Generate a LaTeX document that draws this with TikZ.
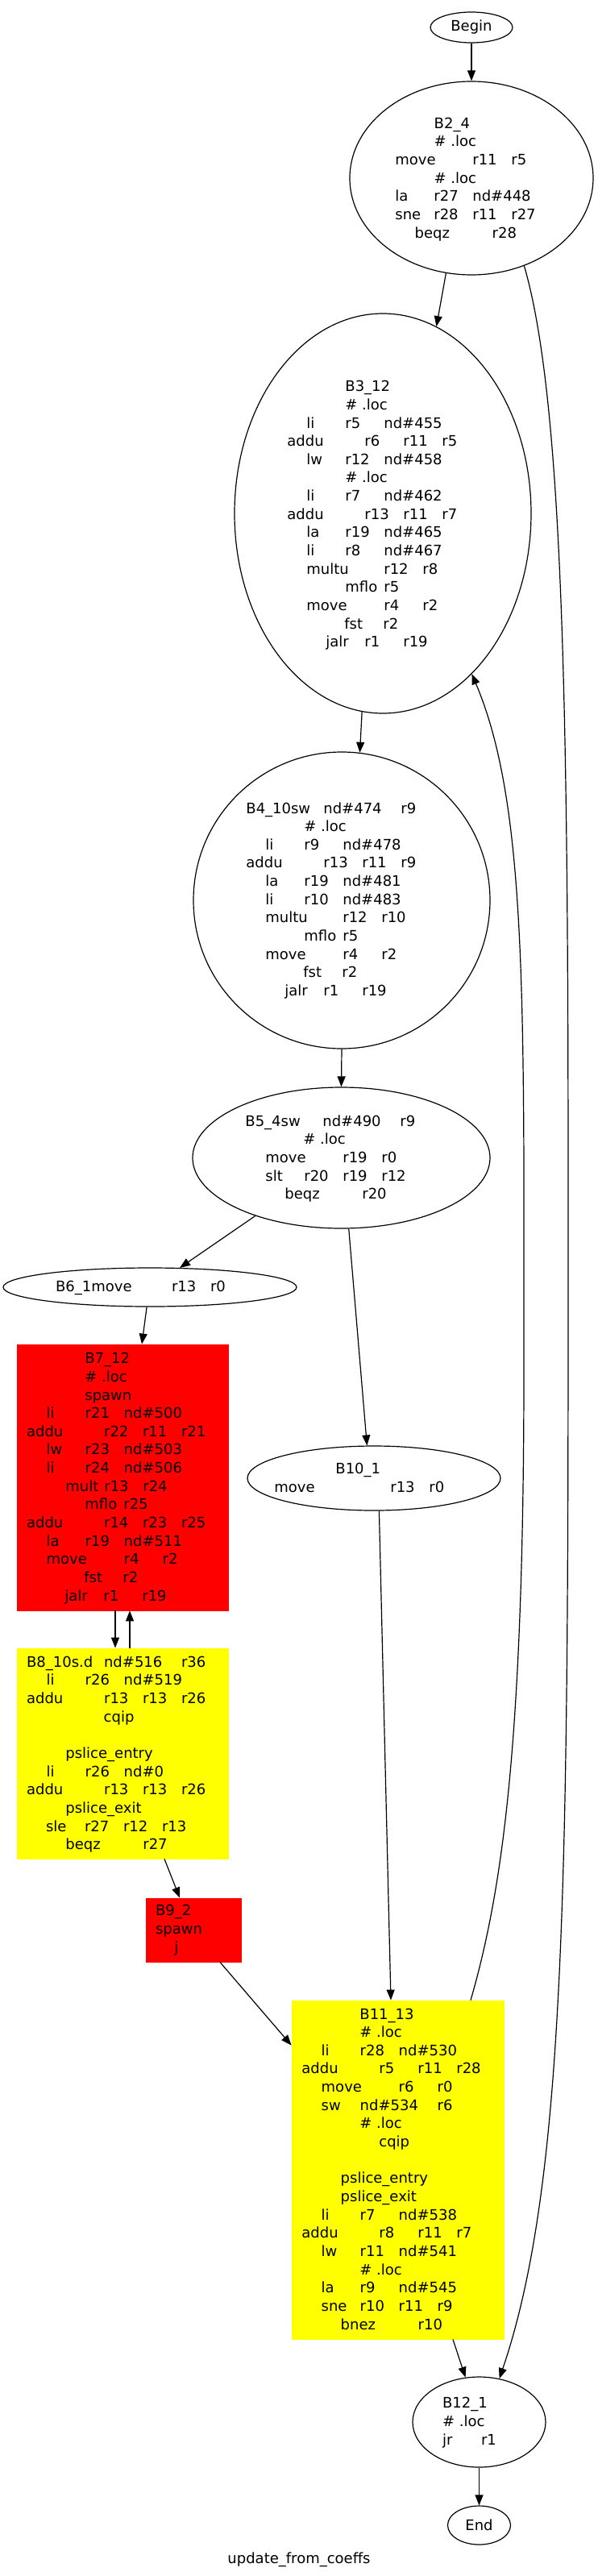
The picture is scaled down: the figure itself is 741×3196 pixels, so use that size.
\documentclass[tikz,border=0pt]{standalone}
\usepackage{fontspec}
\setmainfont{DejaVu Sans}
\usetikzlibrary{shapes.geometric,arrows.meta,calc}
\definecolor{gvred}{HTML}{FF0000}
\definecolor{gvyellow}{HTML}{FFFF00}
\newlength\pxu \setlength\pxu{0.5pt}
\newlength\tabw \setlength\tabw{24pt}
\newcommand\tk[2]{\rlap{\hspace*{#1\tabw}#2}}
\newcommand\Ln[2]{\hbox{\hspace*{#1\pxu}#2}}
\newcommand\Blk[1]{\vtop{\baselineskip=11.325pt\lineskiplimit=-100pt\lineskip=0pt\relax #1}}
\begin{document}
\begin{tikzpicture}[x=0.5pt,y=-0.5pt,font=\fontsize{9}{11.325}\selectfont,
 ell/.style={draw,ellipse,line width=0.6pt,inner sep=0pt},
 redbox/.style={rectangle,fill=gvred,draw=gvred,inner sep=0pt},
 yelbox/.style={rectangle,fill=gvyellow,draw=gvyellow,inner sep=0pt},
 blk/.style={anchor=base west,inner sep=0pt},
 edge/.style={draw,line width=0.6pt,-{Triangle[length=6.5pt,width=5pt]}}]
\useasboundingbox (0,0) rectangle (741,3196);
% shapes
\node[ell,minimum width=51pt,minimum height=19pt] (Begin) at (585,34) {Begin};
\node[ell,minimum width=151pt,minimum height=120pt] (B2) at (585,221) {};
\node[ell,minimum width=184pt,minimum height=248pt] (B3) at (475,637) {};
\node[ell,minimum width=184pt,minimum height=184pt] (B4) at (424,1117) {};
\node[ell,minimum width=184.5pt,minimum height=87.5pt] (B5) at (423.5,1436.5) {};
\node[ell,minimum width=182pt,minimum height=24pt] (B6) at (186,1597) {};
\node[redbox,minimum width=131pt,minimum height=165pt] (B7) at (152,1833) {};
\node[yelbox,minimum width=131pt,minimum height=130.5pt] (B8) at (152,2175.5) {};
\node[redbox,minimum width=59pt,minimum height=39.5pt] (B9) at (240,2394.5) {};
\node[ell,minimum width=157pt,minimum height=40pt] (B10) at (464,1834) {};
\node[yelbox,minimum width=131.5pt,minimum height=210pt] (B11) at (493.5,2692) {};
\node[ell,minimum width=82.5pt,minimum height=56pt] (B12) at (594.5,3005) {};
\node[ell,minimum width=39pt,minimum height=24pt] (End) at (594.5,3133) {End};
% texts
\node[blk] (t2) at (490,159.3) {\Blk{%
\Ln{48.3}{\tk0{B2\_4}}
\Ln{48.3}{\tk0{\# .loc}}
\Ln{0}{\tk0{move}\tk2{r11}\tk3{r5}}
\Ln{48.3}{\tk0{\# .loc}}
\Ln{0}{\tk0{la}\tk1{r27}\tk2{nd\#448}}
\Ln{0}{\tk0{sne}\tk1{r28}\tk2{r11}\tk3{r27}}
\Ln{24.3}{\tk0{beqz}\tk2{r28}}}};
\node[blk] (t3) at (356,485.7) {\Blk{%
\Ln{72}{\tk0{B3\_12}}
\Ln{72}{\tk0{\# .loc}}
\Ln{24}{\tk0{li}\tk1{r5}\tk2{nd\#455}}
\Ln{0}{\tk0{addu}\tk2{r6}\tk3{r11}\tk4{r5}}
\Ln{24}{\tk0{lw}\tk1{r12}\tk2{nd\#458}}
\Ln{72}{\tk0{\# .loc}}
\Ln{24}{\tk0{li}\tk1{r7}\tk2{nd\#462}}
\Ln{0}{\tk0{addu}\tk2{r13}\tk3{r11}\tk4{r7}}
\Ln{24}{\tk0{la}\tk1{r19}\tk2{nd\#465}}
\Ln{24}{\tk0{li}\tk1{r8}\tk2{nd\#467}}
\Ln{24}{\tk0{multu}\tk2{r12}\tk3{r8}}
\Ln{72}{\tk0{mflo}\tk1{r5}}
\Ln{24}{\tk0{move}\tk2{r4}\tk3{r2}}
\Ln{71}{\tk0{fst}\tk1{r2}}
\Ln{48}{\tk0{jalr}\tk1{r1}\tk2{r19}}}};
\node[blk] (t4) at (305,1009) {\Blk{%
\Ln{0}{\tk0{B4\_10sw}\tk2{nd\#474}\tk4{r9}}
\Ln{72}{\tk0{\# .loc}}
\Ln{24}{\tk0{li}\tk1{r9}\tk2{nd\#478}}
\Ln{0}{\tk0{addu}\tk2{r13}\tk3{r11}\tk4{r9}}
\Ln{24}{\tk0{la}\tk1{r19}\tk2{nd\#481}}
\Ln{24}{\tk0{li}\tk1{r10}\tk2{nd\#483}}
\Ln{24}{\tk0{multu}\tk2{r12}\tk3{r10}}
\Ln{72}{\tk0{mflo}\tk1{r5}}
\Ln{24}{\tk0{move}\tk2{r4}\tk3{r2}}
\Ln{71}{\tk0{fst}\tk1{r2}}
\Ln{48}{\tk0{jalr}\tk1{r1}\tk2{r19}}}};
\node[blk] (t5) at (304,1397.3) {\Blk{%
\Ln{0}{\tk0{B5\_4sw}\tk2{nd\#490}\tk4{r9}}
\Ln{72}{\tk0{\# .loc}}
\Ln{25}{\tk0{move}\tk2{r19}\tk3{r0}}
\Ln{25}{\tk0{slt}\tk1{r20}\tk2{r19}\tk3{r12}}
\Ln{49}{\tk0{beqz}\tk2{r20}}}};
\node[blk] (t6) at (67.7,1602.7) {\Blk{%
\Ln{0}{\tk0{B6\_1move}\tk3{r13}\tk4{r0}}}};
\node[blk] (t7) at (32.7,1691.7) {\Blk{%
\Ln{72.3}{\tk0{B7\_12}}
\Ln{72.3}{\tk0{\# .loc}}
\Ln{72.3}{\tk0{spawn}}
\Ln{24.6}{\tk0{li}\tk1{r21}\tk2{nd\#500}}
\Ln{0}{\tk0{addu}\tk2{r22}\tk3{r11}\tk4{r21}}
\Ln{24.6}{\tk0{lw}\tk1{r23}\tk2{nd\#503}}
\Ln{24.6}{\tk0{li}\tk1{r24}\tk2{nd\#506}}
\Ln{48.3}{\tk0{mult}\tk1{r13}\tk2{r24}}
\Ln{72.3}{\tk0{mflo}\tk1{r25}}
\Ln{0}{\tk0{addu}\tk2{r14}\tk3{r23}\tk4{r25}}
\Ln{24.6}{\tk0{la}\tk1{r19}\tk2{nd\#511}}
\Ln{24.6}{\tk0{move}\tk2{r4}\tk3{r2}}
\Ln{71.3}{\tk0{fst}\tk1{r2}}
\Ln{47.3}{\tk0{jalr}\tk1{r1}\tk2{r19}}}};
\node[blk] (t8) at (32.7,2068.3) {\Blk{%
\Ln{0}{\tk0{B8\_10s.d}\tk2{nd\#516}\tk4{r36}}
\Ln{24.6}{\tk0{li}\tk1{r26}\tk2{nd\#519}}
\Ln{0}{\tk0{addu}\tk2{r13}\tk3{r13}\tk4{r26}}
\Ln{95.6}{\tk0{cqip}}
\Ln{0}{}
\Ln{48.3}{\tk0{pslice\_entry}}
\Ln{24.6}{\tk0{li}\tk1{r26}\tk2{nd\#0}}
\Ln{0}{\tk0{addu}\tk2{r13}\tk3{r13}\tk4{r26}}
\Ln{48.3}{\tk0{pslice\_exit}}
\Ln{24}{\tk0{sle}\tk1{r27}\tk2{r12}\tk3{r13}}
\Ln{48.3}{\tk0{beqz}\tk2{r27}}}};
\node[blk] (t9) at (192.7,2376.7) {\Blk{%
\Ln{0}{\tk0{B9\_2}}
\Ln{0}{\tk0{spawn}}
\Ln{23.3}{\tk0{j}}}};
\node[blk] (t10) at (340,1828.4) {\Blk{%
\Ln{76}{\tk0{B10\_1}}
\Ln{0}{\tk0{move}\tk3{r13}\tk4{r0}}}};
\node[blk] (t11) at (374,2505) {\Blk{%
\Ln{72}{\tk0{B11\_13}}
\Ln{72}{\tk0{\# .loc}}
\Ln{24.3}{\tk0{li}\tk1{r28}\tk2{nd\#530}}
\Ln{0}{\tk0{addu}\tk2{r5}\tk3{r11}\tk4{r28}}
\Ln{24.3}{\tk0{move}\tk2{r6}\tk3{r0}}
\Ln{24.3}{\tk0{sw}\tk1{nd\#534}\tk3{r6}}
\Ln{72}{\tk0{\# .loc}}
\Ln{96}{\tk0{cqip}}
\Ln{0}{}
\Ln{48.3}{\tk0{pslice\_entry}}
\Ln{48.3}{\tk0{pslice\_exit}}
\Ln{24.3}{\tk0{li}\tk1{r7}\tk2{nd\#538}}
\Ln{0}{\tk0{addu}\tk2{r8}\tk3{r11}\tk4{r7}}
\Ln{24.3}{\tk0{lw}\tk1{r11}\tk2{nd\#541}}
\Ln{72}{\tk0{\# .loc}}
\Ln{24.3}{\tk0{la}\tk1{r9}\tk2{nd\#545}}
\Ln{24.3}{\tk0{sne}\tk1{r10}\tk2{r11}\tk3{r9}}
\Ln{48.3}{\tk0{bnez}\tk2{r10}}}};
\node[blk] (t12) at (547.7,2987.7) {\Blk{%
\Ln{0}{\tk0{B12\_1}}
\Ln{0}{\tk0{\# .loc}}
\Ln{0}{\tk0{jr}\tk1{r1}}}};
\node[anchor=base,inner sep=0pt] (title) at (371,3180) {update\_from\_coeffs};
% edges
\draw[edge] (Begin.south) -- (B2.north);
\draw[edge] (B2.255.5) -- (B3.74.9);
\draw[edge] (B2.-59.4) .. controls (700,500) and (705,900) .. (705,1500) .. controls (705,2300) and (705,2700) .. (B12.65.6);
\draw[edge] (B3.-96.2) -- (B4.83.5);
\draw[edge] ($(B11.north)+(90.5,0)$) .. controls (625,2340) and (650,2150) .. (650,1700) .. controls (650,1250) and (655,1000) .. (B3.-61.2);
\draw[edge] (B4.south) -- (B5.north);
\draw[edge] (B5.214.2) -- (B6.33.7);
\draw[edge] (B5.-84.5) -- (B10.102.7);
\draw[edge] (B6.-99) -- ($(B7.north)+(24,0)$);
\draw[edge] ($(B7.south)+(-9,0)$) -- ($(B8.north)+(-9,0)$);
\draw[edge] ($(B8.north)+(9,0)$) -- ($(B7.south)+(9,0)$);
\draw[edge] ($(B8.south)+(52,0)$) -- ($(B9.north)+(-17,0)$);
\draw[edge] ($(B9.south)+(33,0)$) -- ($(B11.north west)+(0,56)$);
\draw[edge] (B10.-81.5) -- ($(B11.north)+(-8.5,0)$);
\draw[edge] ($(B11.south)+(68.5,0)$) -- (B12.107.2);
\draw[edge] (B12.south) -- (End.north);
\end{tikzpicture}
\end{document}
